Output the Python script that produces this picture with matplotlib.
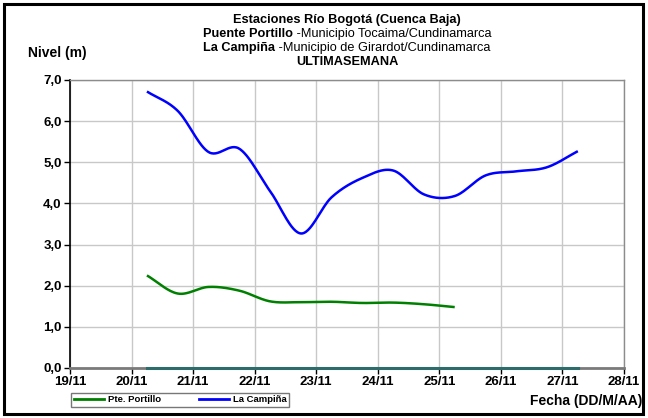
import numpy as np
import matplotlib
matplotlib.use("Agg")
import matplotlib.pyplot as plt
from matplotlib.patches import Rectangle
from matplotlib.lines import Line2D

plt.rcParams['font.family'] = ['Liberation Sans', 'DejaVu Sans']

# ---- data (day of November, level in m) ----
days_portillo = [20.25, 20.75, 21.25, 21.75, 22.25, 22.75, 23.25, 23.75, 24.25, 24.75, 25.25]
nivel_portillo = [2.25, 1.81, 1.97, 1.88, 1.62, 1.60, 1.61, 1.58, 1.59, 1.55, 1.48]

days_campina = [20.25, 20.75, 21.25, 21.75, 22.25, 22.75, 23.25, 23.75, 24.25, 24.75,
                25.25, 25.75, 26.25, 26.75, 27.25]
nivel_campina = [6.72, 6.25, 5.25, 5.33, 4.30, 3.27, 4.15, 4.62, 4.80, 4.22,
                 4.18, 4.68, 4.78, 4.88, 5.27]

days_zero = [20.25, 27.25]
nivel_zero = [0.0, 0.0]

tick_days = [19, 20, 21, 22, 23, 24, 25, 26, 27, 28]
tick_labels = ['19/11', '20/11', '21/11', '22/11', '23/11', '24/11', '25/11', '26/11', '27/11', '28/11']
y_ticks = [0, 1, 2, 3, 4, 5, 6, 7]
y_labels = ['0,0', '1,0', '2,0', '3,0', '4,0', '5,0', '6,0', '7,0']


def smooth(x, y, n=30):
    """Catmull-Rom style smoothing (like Excel smoothed lines)."""
    x = np.asarray(x, float); y = np.asarray(y, float)
    if len(x) < 3:
        return x, y
    P = np.column_stack([x, y])
    P = np.vstack([P[0] - (P[1] - P[0]), P, P[-1] + (P[-1] - P[-2])])
    out = []
    t = np.linspace(0, 1, n, endpoint=False)[:, None]
    for i in range(1, len(P) - 2):
        p0, p1, p2, p3 = P[i - 1], P[i], P[i + 1], P[i + 2]
        b1 = p1 + (p2 - p0) / 6
        b2 = p2 - (p3 - p1) / 6
        seg = ((1 - t) ** 3) * p1 + 3 * ((1 - t) ** 2) * t * b1 + 3 * (1 - t) * t ** 2 * b2 + t ** 3 * p2
        out.append(seg)
    out.append(P[-2][None, :])
    out = np.vstack(out)
    return out[:, 0], out[:, 1]


W, H = 648, 418
fig = plt.figure(figsize=(W / 100, H / 100), dpi=100)
fig.patch.set_facecolor('white')

# outer frame
fig.add_artist(Rectangle((4 / W, 4 / H), 639 / W, 410 / H, transform=fig.transFigure,
                         fill=False, edgecolor='black', linewidth=2.2))

x0, x1 = 70, 624
y_top, y_bot = 80, 368
ax = fig.add_axes([x0 / W, (H - y_bot) / H, (x1 - x0) / W, (y_bot - y_top) / H])

ax.set_xlim(19, 28)
ax.set_ylim(0, 7)
ax.set_xticks(tick_days)
ax.set_xticklabels(tick_labels, fontsize=9.5, fontweight='bold')
ax.set_yticks(y_ticks)
ax.set_yticklabels(y_labels, fontsize=9.5, fontweight='bold')
ax.grid(True, color='#c8c8c8', linewidth=1.0)
ax.set_axisbelow(True)

for s in ['top', 'right']:
    ax.spines[s].set_color('#8c8c8c')
    ax.spines[s].set_linewidth(1.0)
ax.spines['left'].set_color('black')
ax.spines['left'].set_linewidth(1.2)
ax.spines['bottom'].set_color('#7a7a7a')
ax.spines['bottom'].set_linewidth(2.0)
ax.tick_params(axis='both', direction='out', length=4, width=1, color='black', pad=2)

xs, ys = smooth(days_campina, nivel_campina)
ax.plot(xs, ys, color='#0000ff', linewidth=1.8, solid_capstyle='butt', zorder=3)
xs, ys = smooth(days_portillo, nivel_portillo)
ax.plot(xs, ys, color='#008000', linewidth=1.8, solid_capstyle='butt', zorder=3)
ax.plot(days_zero, nivel_zero, color='#2e6b6b', linewidth=2.2, clip_on=False, zorder=4)

# titles
cxp = (x0 + x1) / 2
cx = cxp / W
fs = 9.2
fig.text(cx, 1 - 20 / H, 'Estaciones Río Bogotá (Cuenca Baja)', ha='center', va='center',
         fontsize=fs, fontweight='bold')
fig.text(cx, 1 - 62 / H, 'ULTIMASEMANA', ha='center', va='center', fontsize=fs, fontweight='bold')

renderer = fig.canvas.get_renderer()
for ypix, bold_part, reg_part in [(34, 'Puente Portillo', ' -Municipio Tocaima/Cundinamarca'),
                                  (48, 'La Campiña', ' -Municipio de Girardot/Cundinamarca')]:
    tb = fig.text(0, 1 - ypix / H, bold_part, ha='left', va='center', fontsize=fs, fontweight='bold')
    tr = fig.text(0, 1 - ypix / H, reg_part, ha='left', va='center', fontsize=fs)
    wb = tb.get_window_extent(renderer).width
    wr = tr.get_window_extent(renderer).width
    start = cxp - (wb + wr) / 2
    tb.set_x(start / W)
    tr.set_x((start + wb) / W)

fig.text(28 / W, 1 - 53 / H, 'Nivel (m)', ha='left', va='center', fontsize=10, fontweight='bold')
fig.text(642 / W, 1 - 401 / H, 'Fecha (DD/M/AA)', ha='right', va='center', fontsize=10, fontweight='bold')

# legend
handles = [Line2D([], [], color='#008000', lw=2.0), Line2D([], [], color='#0000ff', lw=2.0)]
leg = fig.legend(handles, ['Pte. Portillo', 'La Campiña'], loc='center',
                 bbox_to_anchor=(180 / W, 1 - 400 / H), ncol=2, frameon=True,
                 prop={'size': 6.8, 'weight': 'bold'}, handlelength=3.2, columnspacing=4,
                 borderpad=0.3, fancybox=False, handletextpad=0.4, borderaxespad=0)
leg.get_frame().set_edgecolor('#555555')
leg.get_frame().set_linewidth(1.0)

fig.savefig('out.png', dpi=100)
